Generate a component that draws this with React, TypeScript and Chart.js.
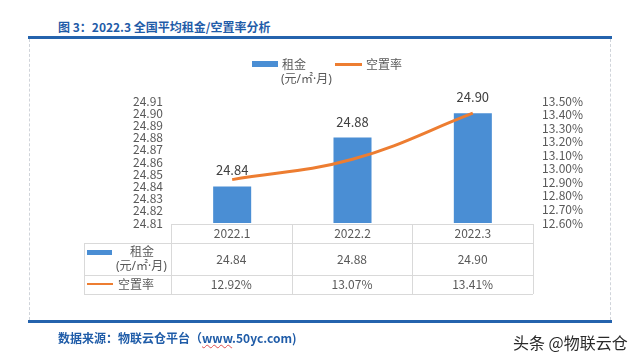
import React, { useEffect, useRef } from "react";
import { Chart, registerables } from "chart.js";

Chart.register(...registerables);

const categories = ["2022.1", "2022.2", "2022.3"];
const rentValues = [24.84, 24.88, 24.9];
const vacancyValues = [12.92, 13.07, 13.41];
const rentAxis = [24.81, 24.91, 0.01];
const vacancyAxis = [12.6, 13.5, 0.1];

const titleText = "图 3：2022.3 全国平均租金/空置率分析";
const rentLabel = "租金";
const rentUnit = "(元/㎡·月)";
const vacancyLabel = "空置率";

const FONT = '"Noto Sans CJK SC", "Noto Sans", sans-serif';
const UNIT_FONT = '"Noto Sans", "Noto Sans CJK SC", sans-serif';
const BLUE = "#4a8ed4";
const ORANGE = "#ed7d31";
const TEXT = "#595959";
const GRID = "#d9d9d9";
const HEAD = "#1f5ca8";

const barLabelPlugin = {
  id: "barLabels",
  afterDatasetsDraw(chart: any) {
    const meta = chart.getDatasetMeta(0);
    const ctx = chart.ctx;
    ctx.save();
    ctx.font = `13px ${FONT}`;
    ctx.fillStyle = "#404040";
    ctx.textAlign = "center";
    ctx.textBaseline = "middle";
    meta.data.forEach((el: any, i: number) => {
      ctx.fillText(rentValues[i].toFixed(2), el.x, el.y - 16);
    });
    ctx.restore();
  },
};

export default function App() {
  const ref = useRef<HTMLCanvasElement>(null);

  useEffect(() => {
    if (!ref.current) return;
    const chart = new Chart(ref.current, {
      type: "bar",
      data: {
        labels: categories,
        datasets: [
          {
            type: "bar",
            label: rentLabel,
            data: rentValues,
            backgroundColor: BLUE,
            yAxisID: "y",
            barPercentage: 0.316,
            categoryPercentage: 1,
            order: 1,
          },
          {
            type: "line",
            label: vacancyLabel,
            data: vacancyValues,
            borderColor: ORANGE,
            backgroundColor: ORANGE,
            borderWidth: 3,
            tension: 0.4,
            pointRadius: 0,
            yAxisID: "y1",
            order: 0,
          } as any,
        ],
      },
      options: {
        responsive: false,
        animation: false,
        devicePixelRatio: 1,
        layout: { padding: { top: 101, left: 0, right: 0, bottom: 0 } },
        plugins: { legend: { display: false }, tooltip: { enabled: false } },
        scales: {
          x: {
            grid: { display: false, drawTicks: false },
            border: { display: false },
            ticks: { padding: 3, color: TEXT, font: { size: 12, family: FONT } },
            afterFit: (s: any) => {
              s.height = 137;
            },
          },
          y: {
            position: "left",
            min: rentAxis[0],
            max: rentAxis[1],
            grid: { display: false, drawTicks: false },
            border: { display: false },
            ticks: {
              stepSize: rentAxis[2],
              autoSkip: false,
              padding: 9,
              color: TEXT,
              font: { size: 12, family: FONT },
              callback: (v: any) => Number(v).toFixed(2),
            },
            afterFit: (s: any) => {
              s.width = 172;
            },
          },
          y1: {
            position: "right",
            min: vacancyAxis[0],
            max: vacancyAxis[1],
            grid: { display: false, drawTicks: false },
            border: { display: false },
            ticks: {
              stepSize: vacancyAxis[2],
              autoSkip: false,
              padding: 9,
              color: TEXT,
              font: { size: 12, family: FONT },
              callback: (v: any) => Number(v).toFixed(2) + "%",
            },
            afterFit: (s: any) => {
              s.width = 107;
            },
          },
        },
      },
      plugins: [barLabelPlugin],
    });
    return () => chart.destroy();
  }, []);

  const tableLeft = 171;
  const tableRight = 533;
  const colW = (tableRight - tableLeft) / categories.length;
  const abs = (o: any): React.CSSProperties => ({ position: "absolute", ...o });

  return (
    <div
      style={{
        position: "fixed",
        left: 0,
        top: 0,
        width: 640,
        height: 360,
        background: "#ffffff",
        fontFamily: FONT,
        overflow: "hidden",
      }}
    >
      {/* frame */}
      <div style={abs({ left: 28, top: 36, width: 584, height: 3, background: "#2463ad" })} />
      <div style={abs({ left: 28, top: 320, width: 584, height: 3, background: "#2463ad" })} />
      <div style={abs({ left: 29, top: 39, width: 0, height: 281, borderLeft: "1px dashed #d0d4da" })} />
      <div style={abs({ left: 610, top: 39, width: 0, height: 281, borderLeft: "1px dashed #d0d4da" })} />
      <div
        style={abs({
          left: 58,
          top: 19,
          fontSize: 12,
          fontWeight: 700,
          color: HEAD,
          lineHeight: "16px",
          whiteSpace: "pre",
        })}
      >
        {titleText}
      </div>

      <canvas
        ref={ref}
        width={640}
        height={360}
        style={{ position: "absolute", left: 0, top: 0, width: 640, height: 360 }}
      />

      {/* legend */}
      <div style={abs({ left: 252, top: 61, width: 26, height: 6, background: BLUE })} />
      <div style={abs({ left: 282, top: 56, fontSize: 12, color: TEXT, lineHeight: "16px", whiteSpace: "nowrap" })}>
        {rentLabel}
      </div>
      <div
        style={abs({
          left: 281,
          top: 71,
          fontSize: 12,
          fontFamily: UNIT_FONT,
          color: TEXT,
          lineHeight: "16px",
          whiteSpace: "nowrap",
        })}
      >
        {rentUnit}
      </div>
      <div style={abs({ left: 335, top: 63, width: 27, height: 3, background: ORANGE })} />
      <div style={abs({ left: 366, top: 56, fontSize: 12, color: TEXT, lineHeight: "16px", whiteSpace: "nowrap" })}>
        {vacancyLabel}
      </div>

      {/* data table */}
      <div style={abs({ left: tableLeft, top: 224, width: tableRight - tableLeft, height: 0, borderTop: `1px solid ${GRID}` })} />
      <div style={abs({ left: 84, top: 243, width: tableRight - 84, height: 0, borderTop: `1px solid ${GRID}` })} />
      <div style={abs({ left: 84, top: 275, width: tableRight - 84, height: 0, borderTop: `1px solid ${GRID}` })} />
      <div style={abs({ left: 84, top: 294, width: tableRight - 84, height: 0, borderTop: `1px solid ${GRID}` })} />
      <div style={abs({ left: 84, top: 243, width: 0, height: 51, borderLeft: `1px solid ${GRID}` })} />
      {[0, 1, 2, 3].map((i) => (
        <div
          key={"v" + i}
          style={abs({
            left: Math.round(tableLeft + i * colW),
            top: 224,
            width: 0,
            height: 70,
            borderLeft: `1px solid ${GRID}`,
          })}
        />
      ))}
      <div style={abs({ left: 87, top: 250, width: 25, height: 5, background: BLUE })} />
      <div style={abs({ left: 130, top: 243, fontSize: 12, color: TEXT, lineHeight: "16px", whiteSpace: "nowrap" })}>
        {rentLabel}
      </div>
      <div
        style={abs({
          left: 116,
          top: 258,
          fontSize: 12,
          fontFamily: UNIT_FONT,
          color: TEXT,
          lineHeight: "16px",
          whiteSpace: "nowrap",
        })}
      >
        {rentUnit}
      </div>
      <div style={abs({ left: 87, top: 283, width: 26, height: 2, background: ORANGE })} />
      <div style={abs({ left: 118, top: 276, fontSize: 12, color: TEXT, lineHeight: "16px", whiteSpace: "nowrap" })}>
        {vacancyLabel}
      </div>
      {rentValues.map((v, i) => (
        <div
          key={"r" + i}
          style={abs({
            left: tableLeft + i * colW,
            top: 251,
            width: colW,
            textAlign: "center",
            fontSize: 12,
            color: TEXT,
            lineHeight: "16px",
          })}
        >
          {v.toFixed(2)}
        </div>
      ))}
      {vacancyValues.map((v, i) => (
        <div
          key={"p" + i}
          style={abs({
            left: tableLeft + i * colW,
            top: 276,
            width: colW,
            textAlign: "center",
            fontSize: 12,
            color: TEXT,
            lineHeight: "16px",
          })}
        >
          {v.toFixed(2) + "%"}
        </div>
      ))}

      {/* footer */}
      <div
        style={abs({
          left: 58,
          top: 330,
          fontSize: 12,
          fontWeight: 700,
          color: HEAD,
          lineHeight: "16px",
          whiteSpace: "nowrap",
        })}
      >
        数据来源：物联云仓平台（
        <span style={{ textDecoration: "underline wavy #e05050", textDecorationThickness: 1 }}>www</span>
        .50yc.com)
      </div>
      <div
        style={abs({
          left: 513,
          top: 332,
          fontSize: 16,
          color: "#2a2a2a",
          lineHeight: "20px",
          whiteSpace: "nowrap",
        })}
      >
        头条 @物联云仓
      </div>
    </div>
  );
}
